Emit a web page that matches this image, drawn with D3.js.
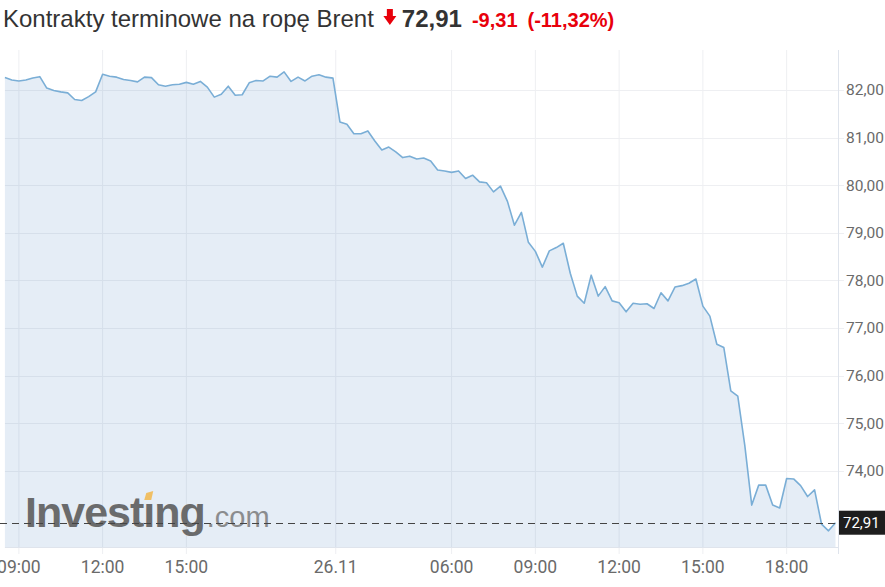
<!DOCTYPE html>
<html>
<head>
<meta charset="utf-8">
<script src="https://cdn.jsdelivr.net/npm/d3@7"></script>
<style>
  html, body { margin: 0; padding: 0; background: #fff; }
  svg { display: block; }
</style>
</head>
<body>
<svg id="chart" width="885" height="587"></svg>
<script>
// ---------- DATA ----------
const titleText = "Kontrakty terminowe na ropę Brent";
const lastPrice = 72.91;
const changeText = "-9,31";
const changePctText = "(-11,32%)";

// 15-minute closes, session 25.11 then 26.11 (index axis, overnight gap removed)
const values = [
  82.26, 82.21, 82.19, 82.21, 82.25, 82.28, 82.04, 81.99, 81.96, 81.94,
  81.80, 81.78, 81.86, 81.96, 82.33, 82.29, 82.27, 82.22, 82.20, 82.17,
  82.27, 82.26, 82.11, 82.08, 82.11, 82.12, 82.16, 82.12, 82.18, 82.06,
  81.85, 81.91, 82.08, 81.89, 81.90, 82.15, 82.20, 82.19, 82.29, 82.27,
  82.38, 82.18, 82.27, 82.19, 82.29, 82.32, 82.27, 82.25,
  81.33, 81.28, 81.08, 81.08, 81.14, 80.93, 80.74, 80.80, 80.70, 80.58,
  80.61, 80.55, 80.57, 80.51, 80.32, 80.30, 80.27, 80.30, 80.14, 80.21,
  80.07, 80.05, 79.86, 79.98, 79.66, 79.16, 79.43, 78.80, 78.61, 78.28,
  78.62, 78.69, 78.78, 78.15, 77.67, 77.52, 78.11, 77.67, 77.87, 77.57,
  77.53, 77.34, 77.52, 77.50, 77.51, 77.41, 77.74, 77.57, 77.86, 77.89,
  77.94, 78.03, 77.46, 77.25, 76.66, 76.59, 75.68, 75.57, 74.54, 73.28,
  73.70, 73.70, 73.28, 73.22, 73.84, 73.83, 73.69, 73.46, 73.60, 72.88,
  72.74, 72.91
];

const xTickLabels = ["09:00", "12:00", "15:00", "26.11", "06:00", "09:00", "12:00", "15:00", "18:00"];
const xTickIndex  = [2, 14, 26, 47.4, 64, 76, 88, 100, 112];
const yTickValues = [74, 75, 76, 77, 78, 79, 80, 81, 82];

// ---------- LAYOUT ----------
const W = 885, H = 587;
const plot = { left: 4.9, right: 835.5, top: 50, bottom: 547, axisX: 838 };
const fmt = v => d3.format(".2f")(v).replace(".", ",");

const svg = d3.select("#chart");

const x = d3.scaleLinear().domain([0, values.length - 1]).range([plot.left, plot.right]);
const y = d3.scaleLinear().domain([72.4, 82.84]).range([plot.bottom, plot.top]);

// ---------- TITLE ----------
const title = svg.append("text")
  .attr("x", 3).attr("y", 27)
  .style("font-family", "'Liberation Sans', Arial, sans-serif")
  .style("font-size", "24px")
  .attr("fill", "#333")
  .text(titleText);
const tEnd = 3 + title.node().getComputedTextLength();

// red down arrow
const ax = tEnd + 16;
svg.append("path")
  .attr("d", `M${ax - 3},9 L${ax + 3},9 L${ax + 3},16 L${ax + 6.5},16 L${ax},25 L${ax - 6.5},16 L${ax - 3},16 Z`)
  .attr("fill", "#e8000b");

const priceT = svg.append("text")
  .attr("x", ax + 12).attr("y", 27)
  .style("font-family", "'Liberation Sans', Arial, sans-serif")
  .style("font-size", "24px").style("font-weight", "bold")
  .attr("fill", "#333")
  .text(fmt(lastPrice));
const pEnd = ax + 12 + priceT.node().getComputedTextLength();

const chT = svg.append("text")
  .attr("x", pEnd + 10).attr("y", 27)
  .style("font-family", "'Liberation Sans', Arial, sans-serif")
  .style("font-size", "20px").style("font-weight", "bold")
  .attr("fill", "#e8000b")
  .text(changeText);
const cEnd = pEnd + 10 + chT.node().getComputedTextLength();

svg.append("text")
  .attr("x", cEnd + 10).attr("y", 27)
  .style("font-family", "'Liberation Sans', Arial, sans-serif")
  .style("font-size", "20px").style("font-weight", "bold")
  .attr("fill", "#e8000b")
  .text(changePctText);

// ---------- GRID ----------
const grid = svg.append("g");
grid.selectAll("line.v").data(xTickIndex).enter().append("line")
  .attr("x1", d => x(d)).attr("x2", d => x(d))
  .attr("y1", plot.top).attr("y2", plot.bottom + 7)
  .attr("stroke", "#eeeff2").attr("stroke-width", 1);
grid.selectAll("line.h").data(yTickValues).enter().append("line")
  .attr("x1", plot.left).attr("x2", plot.axisX + 6)
  .attr("y1", d => Math.round(y(d)) + 0.5).attr("y2", d => Math.round(y(d)) + 0.5)
  .attr("stroke", "#eeeff2").attr("stroke-width", 1);

// ---------- AREA + LINE ----------
const area = d3.area()
  .x((d, i) => x(i))
  .y0(plot.bottom)
  .y1(d => y(d));
svg.append("path")
  .datum(values)
  .attr("d", area)
  .attr("fill", "rgb(70,130,190)")
  .attr("fill-opacity", 0.14);

const line = d3.line().x((d, i) => x(i)).y(d => y(d));
svg.append("path")
  .datum(values)
  .attr("d", line)
  .attr("fill", "none")
  .attr("stroke", "#7aaed6")
  .attr("stroke-width", 1.6)
  .attr("stroke-linejoin", "round");

// ---------- LOGO ----------
const logo = svg.append("g").attr("opacity", 0.85);
const logoT = logo.append("text")
  .attr("x", 25).attr("y", 527)
  .style("font-family", "'Liberation Sans', Arial, sans-serif")
  .style("font-size", "43px").style("font-weight", "bold")
  .style("letter-spacing", "-1px")
  .attr("fill", "#555")
  .text("Investıng");
const ext = logoT.node().getExtentOfChar(6);
const dx0 = ext.x + 1, dx1 = ext.x + ext.width - 2;
logo.append("polygon")
  .attr("points", `${dx0 + 2},493 ${dx1 + 1},491 ${dx1 - 1},500 ${dx0},500`)
  .attr("fill", "#f2b84b");
const lEnd = 25 + logoT.node().getComputedTextLength();
logo.append("text")
  .attr("x", lEnd + 2).attr("y", 527)
  .style("font-family", "'Liberation Sans', Arial, sans-serif")
  .style("font-size", "29px")
  .attr("fill", "#7c7c7c")
  .text(".com");

// ---------- LAST PRICE DASHED LINE ----------
svg.append("line")
  .attr("x1", 0).attr("x2", plot.axisX)
  .attr("y1", Math.round(y(lastPrice)) + 0.5).attr("y2", Math.round(y(lastPrice)) + 0.5)
  .attr("stroke", "#444").attr("stroke-width", 1)
  .attr("stroke-dasharray", "7,5");

// ---------- AXES ----------
svg.append("line")
  .attr("x1", plot.left).attr("x2", plot.axisX)
  .attr("y1", plot.bottom + 0.5).attr("y2", plot.bottom + 0.5)
  .attr("stroke", "#dfe4ec");
svg.append("line")
  .attr("x1", plot.axisX + 0.5).attr("x2", plot.axisX + 0.5)
  .attr("y1", plot.top).attr("y2", plot.bottom + 7)
  .attr("stroke", "#dfe4ec");

svg.append("g").selectAll("text").data(xTickIndex).enter().append("text")
  .attr("x", d => x(d)).attr("y", 573)
  .attr("text-anchor", "middle")
  .style("font-family", "Roboto, sans-serif")
  .style("font-size", "17.5px")
  .attr("fill", "#6a6a6a")
  .text((d, i) => xTickLabels[i]);

svg.append("g").selectAll("text").data(yTickValues).enter().append("text")
  .attr("x", 846).attr("y", d => y(d))
  .attr("dy", "0.35em")
  .style("font-family", "Roboto, sans-serif")
  .style("font-size", "15.5px")
  .attr("fill", "#6a6a6a")
  .text(d => fmt(d));

// ---------- LAST PRICE LABEL ----------
const ly = y(lastPrice);
svg.append("rect")
  .attr("x", plot.axisX + 1).attr("y", ly - 12)
  .attr("width", W - plot.axisX - 1).attr("height", 24)
  .attr("fill", "#1e1e1e");
svg.append("text")
  .attr("x", 843).attr("y", ly).attr("dy", "0.35em")
  .style("font-family", "Roboto, sans-serif")
  .style("font-size", "15px")
  .attr("fill", "#fff")
  .text(fmt(lastPrice));
</script>
</body>
</html>
